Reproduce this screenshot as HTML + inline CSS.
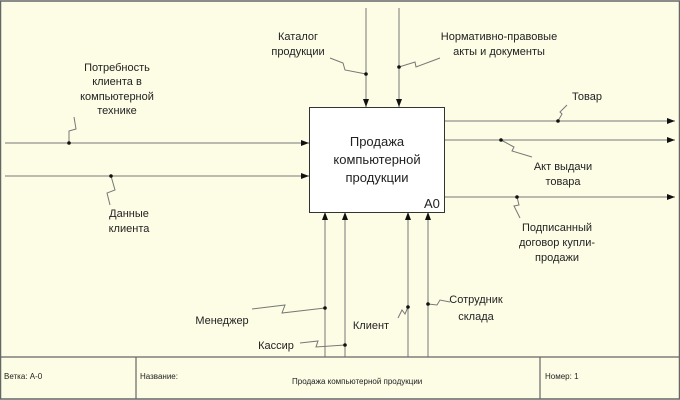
<!DOCTYPE html>
<html><head><meta charset="utf-8"><style>
body{margin:0;background:#fff}
svg{display:block}
text{font-family:"Liberation Sans",sans-serif;fill:#222}
</style></head><body>
<svg width="680" height="400" viewBox="0 0 680 400">
<defs><marker id="a" markerWidth="8" markerHeight="6" refX="8" refY="3" orient="auto" markerUnits="userSpaceOnUse"><path d="M0,0L8,3L0,6z" fill="#111"/></marker></defs>
<rect x="0.5" y="1" width="679" height="398" fill="#fdfde6" stroke="#666" stroke-width="1.5"/>
<g stroke="#777" stroke-width="1" fill="none">
<line x1="5" y1="143" x2="309" y2="143" marker-end="url(#a)"/>
<line x1="5" y1="176" x2="309" y2="176" marker-end="url(#a)"/>
<line x1="366" y1="8" x2="366" y2="107" marker-end="url(#a)"/>
<line x1="399" y1="8" x2="399" y2="107" marker-end="url(#a)"/>
<line x1="444" y1="121" x2="675" y2="121" marker-end="url(#a)"/>
<line x1="444" y1="140" x2="675" y2="140" marker-end="url(#a)"/>
<line x1="444" y1="197" x2="675" y2="197" marker-end="url(#a)"/>
<line x1="325" y1="357" x2="325" y2="212" marker-end="url(#a)"/>
<line x1="345" y1="357" x2="345" y2="212" marker-end="url(#a)"/>
<line x1="408" y1="357" x2="408" y2="212" marker-end="url(#a)"/>
<line x1="428" y1="357" x2="428" y2="212" marker-end="url(#a)"/>
<path d="M69,143L69,131L76,129L74,117"/>
<path d="M111,176L115,190L107,193L110,205"/>
<path d="M330,58L343,63L345,70L366,74"/>
<path d="M399,67L415,62L416,67L440,58"/>
<path d="M558,121L562,114L560,112L567,105"/>
<path d="M501,140L514,147L512,151L532,157"/>
<path d="M517,197L519,205L514,206L520,218"/>
<path d="M252,309L285,305L282,313L325,308"/>
<path d="M300,343L318,341L316,347L345,345"/>
<path d="M408,307L405,314L402,310L398,318"/>
<path d="M428,304L437,305L440,300L450,302"/>
</g>
<g fill="#111">
<circle cx="69" cy="143" r="1.8"/><circle cx="111" cy="176" r="1.8"/><circle cx="366" cy="74" r="1.8"/><circle cx="399" cy="67" r="1.8"/><circle cx="558" cy="121" r="1.8"/><circle cx="501" cy="140" r="1.8"/><circle cx="517" cy="197" r="1.8"/><circle cx="325" cy="308" r="1.8"/><circle cx="345" cy="345" r="1.8"/><circle cx="408" cy="307" r="1.8"/><circle cx="428" cy="304" r="1.8"/>
</g>
<rect x="309.5" y="107.5" width="135" height="105" fill="#fff" stroke="#333" stroke-width="1"/>
<g font-size="13" text-anchor="middle">
<text x="377" y="146">Продажа</text><text x="377" y="164">компьютерной</text><text x="377" y="182">продукции</text>
</g>
<text x="424" y="208" font-size="13">A0</text>
<g font-size="11" text-anchor="middle">
<text x="117" y="71">Потребность</text><text x="117" y="85">клиента в</text><text x="117" y="100">компьютерной</text><text x="117" y="114">технике</text>
<text x="129" y="217">Данные</text><text x="129" y="232">клиента</text>
<text x="298" y="40">Каталог</text><text x="298" y="55">продукции</text>
<text x="499" y="40">Нормативно-правовые</text><text x="499" y="55">акты и документы</text>
<text x="587" y="100">Товар</text>
<text x="563" y="170">Акт выдачи</text><text x="563" y="185">товара</text>
<text x="557" y="231">Подписанный</text><text x="557" y="246">договор купли-</text><text x="557" y="261">продажи</text>
<text x="222" y="324">Менеджер</text>
<text x="276" y="349">Кассир</text>
<text x="371" y="329">Клиент</text>
<text x="476" y="303">Сотрудник</text><text x="476" y="320">склада</text>
</g>
<g stroke="#666" stroke-width="1.2" fill="none">
<line x1="0" y1="357" x2="680" y2="357"/>
<line x1="136" y1="357" x2="136" y2="399"/>
<line x1="540" y1="357" x2="540" y2="399"/>
</g>
<g font-size="8">
<text x="4" y="379">Ветка: A-0</text>
<text x="140" y="379">Название:</text>
<text x="292" y="384">Продажа компьютерной продукции</text>
<text x="545" y="379">Номер: 1</text>
</g>
</svg>
</body></html>
